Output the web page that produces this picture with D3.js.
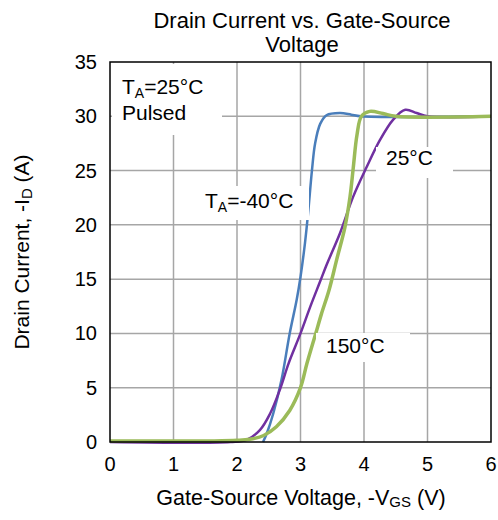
<!DOCTYPE html>
<html>
<head>
<meta charset="utf-8">
<script src="https://cdn.jsdelivr.net/npm/d3@7"></script>
<style>
  body { margin: 0; background: #fff; }
  text { font-family: "Liberation Sans", Arial, sans-serif; fill: #000; }
</style>
</head>
<body>
<div id="chart"></div>
<script>
// data
var xTicks = [0, 1, 2, 3, 4, 5, 6];
var yTicks = [0, 5, 10, 15, 20, 25, 30, 35];

var minus40 = [[2.41,0],[2.47,0.8],[2.57,2.6],[2.7,5.7],[2.83,10],[2.94,13.1],[3.0,15.2],[3.07,18.3],[3.12,21.1],[3.18,25],[3.23,27.5],[3.31,29.3],[3.41,30.1],[3.62,30.3],[3.8,30.15],[3.95,30],[6,30]];
var t25 = [[0,0],[1.9,0],[2.15,0.2],[2.36,1.1],[2.52,2.6],[2.68,4.9],[2.81,7.2],[3.0,10],[3.15,12.4],[3.31,14.8],[3.41,16.3],[3.62,19.2],[3.83,22.6],[4.04,25.3],[4.25,27.8],[4.46,29.7],[4.65,30.6],[4.83,30.3],[5.0,30],[6,30]];
var t150 = [[0,0.1],[1.6,0.1],[2.0,0.15],[2.2,0.25],[2.42,0.6],[2.62,1.4],[2.83,2.9],[3.0,5],[3.1,7.2],[3.24,10],[3.33,11.8],[3.45,14],[3.57,16.8],[3.7,19.8],[3.78,22.6],[3.83,25.2],[3.89,28.3],[3.96,30],[4.09,30.45],[4.3,30.25],[4.5,30],[6,30]];

var series = [
	{name: "-40", data: minus40, color: "#4a7ebb", width: 2.5},
	{name: "25", data: t25, color: "#7030a0", width: 2.5},
	{name: "150", data: t150, color: "#9bbb59", width: 3.5}
];

var W = 498, H = 520;
var m = {left: 110, right: 7, top: 62, bottom: 78};

var svg = d3.select("#chart").append("svg")
	.attr("width", W)
	.attr("height", H);

var x = d3.scaleLinear().domain([0, 6]).range([m.left, W - m.right]);
var y = d3.scaleLinear().domain([0, 35]).range([H - m.bottom, m.top]);

//grid
svg.append("g").selectAll("line")
	.data(xTicks.slice(1, -1))
	.enter().append("line")
	.attr("x1", function(d) { return x(d); })
	.attr("x2", function(d) { return x(d); })
	.attr("y1", y(35)).attr("y2", y(0))
	.attr("stroke", "#a6a6a6").attr("stroke-width", 1.5);
svg.append("g").selectAll("line")
	.data(yTicks.slice(1, -1))
	.enter().append("line")
	.attr("y1", function(d) { return y(d); })
	.attr("y2", function(d) { return y(d); })
	.attr("x1", x(0)).attr("x2", x(6))
	.attr("stroke", "#a6a6a6").attr("stroke-width", 1.5);

//curves
var line = d3.line()
	.x(function(d) { return x(d[0]); })
	.y(function(d) { return y(d[1]); })
	.curve(d3.curveCatmullRom.alpha(0.5));

svg.append("g").selectAll("path")
	.data(series)
	.enter().append("path")
	.attr("d", function(s) { return line(s.data); })
	.attr("fill", "none")
	.attr("stroke", function(s) { return s.color; })
	.attr("stroke-width", function(s) { return s.width; })
	.attr("stroke-linejoin", "round");

//labels with white boxes
function label(bx, by, bw, bh, lines) {
	var g = svg.append("g");
	g.append("rect")
		.attr("x", bx).attr("y", by)
		.attr("width", bw).attr("height", bh)
		.attr("fill", "#fff");
	lines.forEach(function(l) {
		var t = g.append("text")
			.attr("x", l.x).attr("y", l.y)
			.attr("font-size", 21);
		l.parts.forEach(function(p) {
			var ts = t.append("tspan").text(p.t);
			if (p.sub) ts.attr("font-size", 14).attr("dy", 4);
			if (p.back) ts.attr("dy", -4);
		});
	});
}

label(112, 64, 110, 71, [
	{x: 122, y: 94, parts: [{t: "T"}, {t: "A", sub: true}, {t: "=25°C", back: true}]},
	{x: 122, y: 120, parts: [{t: "Pulsed"}]}
]);
label(197, 186, 112, 34, [
	{x: 205, y: 208, parts: [{t: "T"}, {t: "A", sub: true}, {t: "=-40°C", back: true}]}
]);
label(376, 147, 77, 31, [
	{x: 386, y: 165, parts: [{t: "25°C"}]}
]);
label(316, 333, 94, 29, [
	{x: 326, y: 353, parts: [{t: "150°C"}]}
]);

//frame
svg.append("rect")
	.attr("x", x(0)).attr("y", y(35))
	.attr("width", x(6) - x(0)).attr("height", y(0) - y(35))
	.attr("fill", "none")
	.attr("stroke", "#000").attr("stroke-width", 1.5);

//tick labels
svg.append("g").selectAll("text")
	.data(yTicks)
	.enter().append("text")
	.attr("x", 97)
	.attr("y", function(d) { return y(d) + 7; })
	.attr("text-anchor", "end")
	.attr("font-size", 20)
	.text(function(d) { return d; });
svg.append("g").selectAll("text")
	.data(xTicks)
	.enter().append("text")
	.attr("x", function(d) { return x(d); })
	.attr("y", 471)
	.attr("text-anchor", "middle")
	.attr("font-size", 20)
	.text(function(d) { return d; });

//titles
svg.append("text")
	.attr("x", 302).attr("y", 28)
	.attr("text-anchor", "middle").attr("font-size", 22)
	.text("Drain Current vs. Gate-Source");
svg.append("text")
	.attr("x", 302).attr("y", 52)
	.attr("text-anchor", "middle").attr("font-size", 22)
	.text("Voltage");

var xt = svg.append("text")
	.attr("x", 301).attr("y", 505)
	.attr("text-anchor", "middle").attr("font-size", 21.5);
xt.append("tspan").text("Gate-Source Voltage, -V");
xt.append("tspan").text("GS").attr("font-size", 15).attr("dy", 2);
xt.append("tspan").text(" (V)").attr("dy", -2);

var yt = svg.append("text")
	.attr("transform", "translate(29,252) rotate(-90)")
	.attr("text-anchor", "middle").attr("font-size", 21);
yt.append("tspan").text("Drain Current, -I");
yt.append("tspan").text("D").attr("font-size", 15).attr("dy", 3);
yt.append("tspan").text(" (A)").attr("dy", -3);
</script>
</body>
</html>
